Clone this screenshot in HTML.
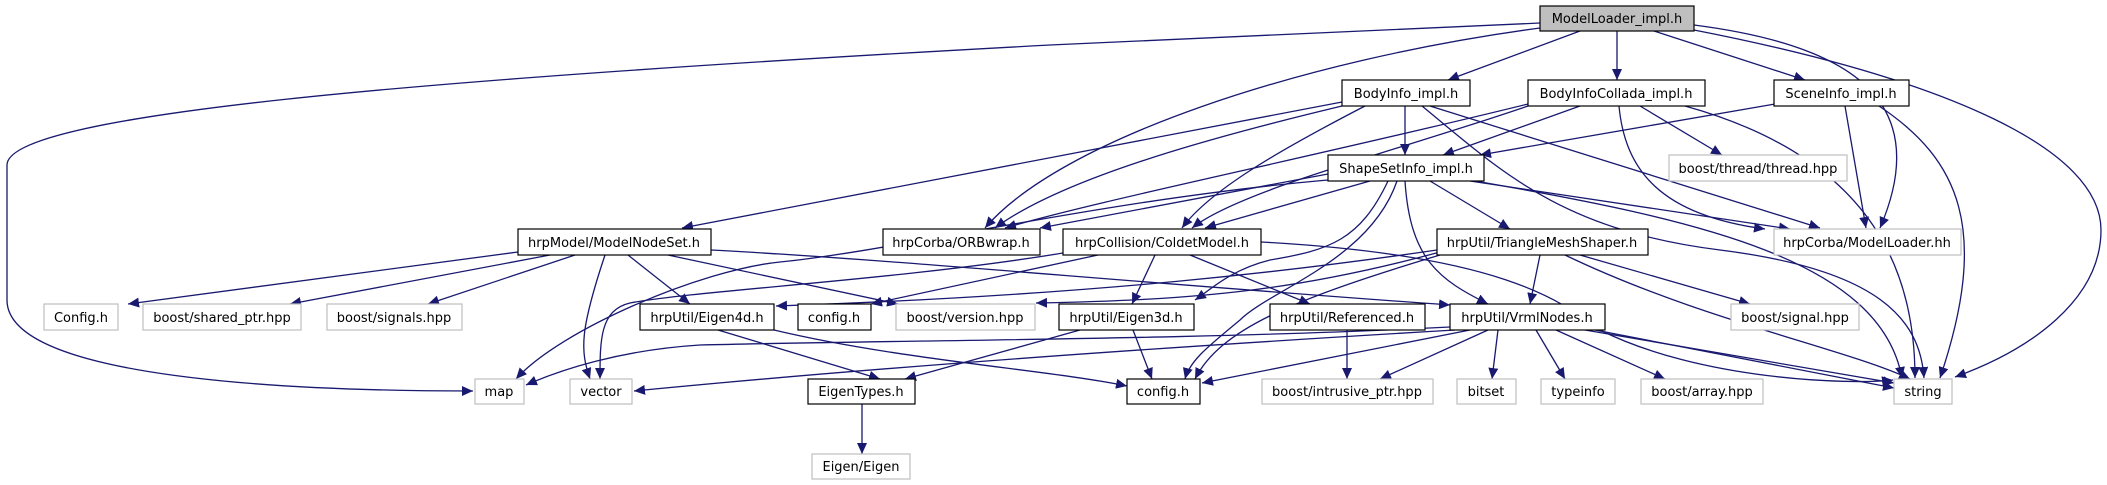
<!DOCTYPE html>
<html><head><meta charset="utf-8"><style>
html,body{margin:0;padding:0;background:#fff}
svg{display:block}
text{font-family:"DejaVu Sans","Liberation Sans",sans-serif;font-size:13px;text-anchor:middle}
.e{fill:none;stroke:#191970;stroke-width:1.3}
.b{fill:#fff;stroke:#000;stroke-width:1.2}
.g{fill:#fff;stroke:#bfbfbf;stroke-width:1.2}
</style></head><body>
<svg width="2107" height="485" viewBox="0 0 2107 485" xmlns="http://www.w3.org/2000/svg">
<defs><marker id="a" markerUnits="userSpaceOnUse" markerWidth="12" markerHeight="10" refX="11" refY="5" orient="auto"><path d="M0,0 L11,5 L0,10 z" fill="#191970"/></marker></defs>
<g class="e" marker-end="url(#a)">
<path d="M1540,23 L1050,45 C400,80 7,115 7,165 L7,300 C7,380 300,391 473,391"/>
<path d="M1540,28 C1300,60 1060,140 985,228"/>
<path d="M1580,31 L1448,80"/>
<path d="M1617,31 L1617,80"/>
<path d="M1654,31 L1805,80"/>
<path d="M1694,25 C1850,45 1935,100 1880,228"/>
<path d="M1694,30 C1950,80 2101,150 2101,230 C2101,300 2030,350 1955,377"/>
<path d="M1342,102 L682,228"/>
<path d="M1342,106 C1200,140 1060,180 995,228"/>
<path d="M1365,106 C1280,150 1210,190 1182,228"/>
<path d="M1405,106 L1405,155"/>
<path d="M1422,106 C1500,170 1560,230 1720,250 C1880,270 1920,320 1924,378"/>
<path d="M1430,106 L1820,228"/>
<path d="M1528,104 C1300,160 1100,200 1005,228"/>
<path d="M1528,106 C1400,150 1240,190 1192,228"/>
<path d="M1580,106 L1443,155"/>
<path d="M1640,106 L1722,155"/>
<path d="M1619,106 C1625,170 1660,215 1765,229"/>
<path d="M1685,106 C1880,160 1915,280 1915,378"/>
<path d="M1775,104 L1480,155"/>
<path d="M1845,106 L1866,228"/>
<path d="M1879,106 C1960,160 1990,230 1940,378"/>
<path d="M1328,174 L1040,228"/>
<path d="M1370,181 L1205,228"/>
<path d="M1388,181 C1360,240 1330,250 1270,260 C1230,270 1210,290 1195,300"/>
<path d="M1397,181 C1370,260 1270,290 1240,320 C1210,345 1190,360 1185,379"/>
<path d="M1405,181 C1410,260 1440,280 1488,304"/>
<path d="M1430,181 L1510,229"/>
<path d="M1470,181 L1790,229"/>
<path d="M1475,181 C1700,220 1880,260 1902,378"/>
<path d="M1328,180 C1100,200 900,250 780,262 C700,270 560,330 516,379"/>
<path d="M518,252 L128,304"/>
<path d="M550,255 L290,304"/>
<path d="M575,255 L428,304"/>
<path d="M605,255 C580,330 580,350 590,379"/>
<path d="M628,255 L690,304"/>
<path d="M668,255 L898,304"/>
<path d="M711,250 C900,260 1100,280 1450,305"/>
<path d="M1063,253 C900,280 700,290 630,303 C600,310 600,340 600,379"/>
<path d="M1098,255 L871,304"/>
<path d="M1155,255 L1132,304"/>
<path d="M1190,255 L1310,304"/>
<path d="M1261,242 C1500,255 1560,300 1600,330 C1700,380 1850,385 1893,380"/>
<path d="M1437,250 C1300,270 1100,295 776,306"/>
<path d="M1440,255 C1290,300 1220,330 1195,379"/>
<path d="M1440,252 C1300,290 1200,300 1036,303"/>
<path d="M1540,255 L1530,304"/>
<path d="M1580,255 L1750,304"/>
<path d="M1565,255 C1700,320 1850,350 1910,379"/>
<path d="M718,330 L880,379"/>
<path d="M774,330 C900,360 1050,370 1127,386"/>
<path d="M1080,330 L905,379"/>
<path d="M1133,330 L1152,379"/>
<path d="M1347,330 L1347,379"/>
<path d="M1450,327 C1200,340 900,340 700,345 C620,350 560,370 526,385"/>
<path d="M1455,330 C1200,345 900,365 634,391"/>
<path d="M1470,330 L1202,383"/>
<path d="M1488,330 L1380,379"/>
<path d="M1498,330 L1492,379"/>
<path d="M1536,330 L1565,379"/>
<path d="M1556,330 L1665,379"/>
<path d="M1585,330 L1894,383"/>
<path d="M1595,330 L1894,388"/>
<path d="M862,404 L862,454"/>
</g>
<g>
<rect x="1540" y="6" width="154" height="25" fill="#bfbfbf" stroke="#000" stroke-width="1.2"/><text x="1617" y="23">ModelLoader_impl.h</text>
<rect class="b" x="1342" y="80" width="128" height="26"/><text x="1406" y="98">BodyInfo_impl.h</text>
<rect class="b" x="1528" y="80" width="177" height="26"/><text x="1616" y="98">BodyInfoCollada_impl.h</text>
<rect class="b" x="1774" y="80" width="135" height="26"/><text x="1841" y="98">SceneInfo_impl.h</text>
<rect class="b" x="1328" y="155" width="156" height="26"/><text x="1406" y="173">ShapeSetInfo_impl.h</text>
<rect class="g" x="1669" y="155" width="178" height="26"/><text x="1758" y="173">boost/thread/thread.hpp</text>
<rect class="b" x="518" y="229" width="193" height="26"/><text x="614" y="247">hrpModel/ModelNodeSet.h</text>
<rect class="b" x="883" y="229" width="157" height="26"/><text x="961" y="247">hrpCorba/ORBwrap.h</text>
<rect class="b" x="1063" y="229" width="198" height="26"/><text x="1162" y="247">hrpCollision/ColdetModel.h</text>
<rect class="b" x="1437" y="229" width="211" height="26"/><text x="1542" y="247">hrpUtil/TriangleMeshShaper.h</text>
<rect class="g" x="1774" y="229" width="187" height="26"/><text x="1867" y="247">hrpCorba/ModelLoader.hh</text>
<rect class="g" x="44" y="304" width="74" height="26"/><text x="81" y="322">Config.h</text>
<rect class="g" x="143" y="304" width="158" height="26"/><text x="222" y="322">boost/shared_ptr.hpp</text>
<rect class="g" x="327" y="304" width="135" height="26"/><text x="394" y="322">boost/signals.hpp</text>
<rect class="b" x="640" y="304" width="134" height="26"/><text x="707" y="322">hrpUtil/Eigen4d.h</text>
<rect class="b" x="798" y="304" width="73" height="26"/><text x="834" y="322">config.h</text>
<rect class="g" x="896" y="304" width="139" height="26"/><text x="965" y="322">boost/version.hpp</text>
<rect class="b" x="1059" y="304" width="135" height="26"/><text x="1126" y="322">hrpUtil/Eigen3d.h</text>
<rect class="b" x="1270" y="304" width="155" height="26"/><text x="1347" y="322">hrpUtil/Referenced.h</text>
<rect class="b" x="1450" y="304" width="155" height="26"/><text x="1527" y="322">hrpUtil/VrmlNodes.h</text>
<rect class="g" x="1731" y="304" width="128" height="26"/><text x="1795" y="322">boost/signal.hpp</text>
<rect class="g" x="475" y="379" width="49" height="25"/><text x="499" y="396">map</text>
<rect class="g" x="570" y="379" width="62" height="25"/><text x="601" y="396">vector</text>
<rect class="b" x="808" y="379" width="107" height="25"/><text x="861" y="396">EigenTypes.h</text>
<rect class="b" x="1127" y="379" width="73" height="25"/><text x="1163" y="396">config.h</text>
<rect class="g" x="1262" y="379" width="171" height="25"/><text x="1347" y="396">boost/intrusive_ptr.hpp</text>
<rect class="g" x="1457" y="379" width="59" height="25"/><text x="1486" y="396">bitset</text>
<rect class="g" x="1541" y="379" width="74" height="25"/><text x="1578" y="396">typeinfo</text>
<rect class="g" x="1641" y="379" width="122" height="25"/><text x="1702" y="396">boost/array.hpp</text>
<rect class="g" x="1894" y="379" width="58" height="25"/><text x="1923" y="396">string</text>
<rect class="g" x="812" y="454" width="98" height="25"/><text x="861" y="471">Eigen/Eigen</text>
</g>
</svg>
</body></html>
